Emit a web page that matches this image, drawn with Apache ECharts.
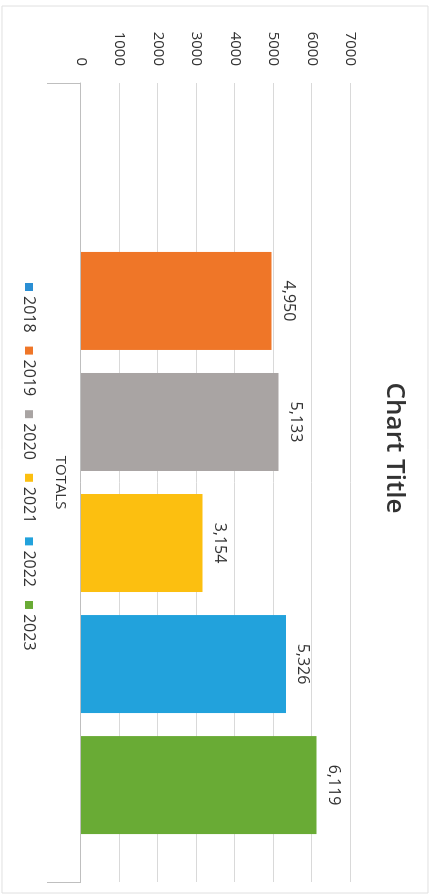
<!DOCTYPE html>
<html>
<head>
<meta charset="utf-8">
<script src="https://cdn.jsdelivr.net/npm/echarts@6/dist/echarts.min.js"></script>
<style>
html,body{margin:0;padding:0;background:#fff;width:438px;height:896px;overflow:hidden;}
#chart{position:absolute;left:0;top:0;width:896px;height:438px;transform-origin:0 0;transform:translate(438px,0) rotate(90deg);}
</style>
</head>
<body>
<div id="chart"></div>
<script>
const categories = ['TOTALS'];
const seriesNames = ['2018', '2019', '2020', '2021', '2022', '2023'];
const seriesValues = [null, 4950, 5133, 3154, 5326, 6119];
const seriesColors = ['#2a8fd4', '#ef7628', '#a9a4a3', '#fcbf10', '#22a2dc', '#69ab35'];
const valueTicks = ['0', '1000', '2000', '3000', '4000', '5000', '6000', '7000'];

const chart = echarts.init(document.getElementById('chart'));
const font = 'Open Sans, Noto Sans, sans-serif';
const tickNums = valueTicks.map(Number);

const series = seriesNames.map((name, i) => ({
  name: name,
  type: 'bar',
  data: [seriesValues[i]],
  barWidth: 98,
  barGap: '23.5%',
  itemStyle: { color: seriesColors[i] },
  label: {
    show: true,
    position: 'top',
    distance: 9,
    fontFamily: font,
    fontSize: 16,
    color: '#333',
    formatter: p => (p.value == null ? '' : Number(p.value).toLocaleString('en-US'))
  }
}));

chart.setOption({
  animation: false,
  backgroundColor: '#fff',
  title: {
    text: 'Chart Title',
    left: 'center',
    top: 26,
    textStyle: { fontFamily: font, fontSize: 26, fontWeight: 600, color: '#333' }
  },
  legend: {
    data: seriesNames,
    left: 278,
    top: 396,
    icon: 'rect',
    itemWidth: 8,
    itemHeight: 8,
    itemGap: 14,
    textStyle: { fontFamily: font, fontSize: 16, color: '#333' }
  },
  grid: { left: 83, right: 14, top: 87.5, bottom: 81 },
  xAxis: {
    type: 'category',
    data: categories,
    axisLine: { lineStyle: { color: '#bfbfbf', width: 1 } },
    axisTick: { show: true, length: 34, lineStyle: { color: '#bfbfbf' } },
    axisLabel: { fontFamily: font, fontSize: 15, color: '#333', margin: 13 }
  },
  yAxis: {
    type: 'value',
    min: tickNums[0],
    max: tickNums[tickNums.length - 1],
    interval: tickNums[1] - tickNums[0],
    axisLine: { show: false },
    axisTick: { show: false },
    splitLine: { lineStyle: { color: '#d9d9d9', width: 1 } },
    axisLabel: {
      fontFamily: font, fontSize: 15, color: '#333', margin: 17,
      formatter: v => { const k = tickNums.indexOf(v); return k >= 0 ? valueTicks[k] : String(v); }
    }
  },
  graphic: [{
    type: 'rect',
    shape: { x: 6, y: 10, width: 887, height: 426 },
    style: { fill: 'none', stroke: '#e0e0e0', lineWidth: 1 },
    silent: true,
    z: -1
  }],
  series: series
});
</script>
</body>
</html>
